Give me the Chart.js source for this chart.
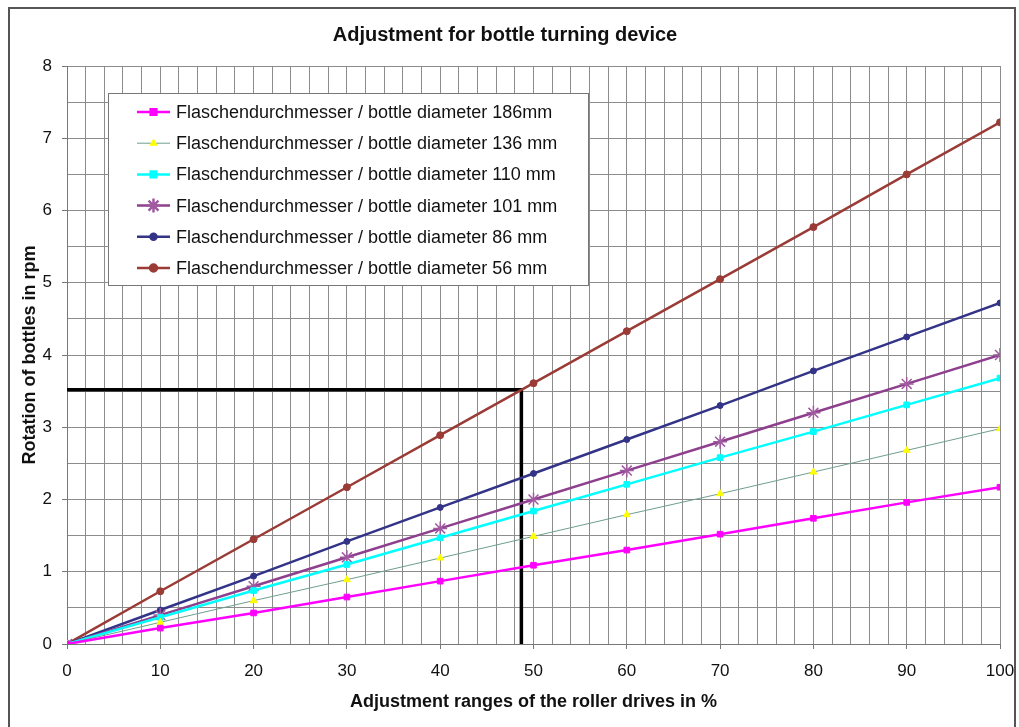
<!DOCTYPE html>
<html>
<head>
<meta charset="utf-8">
<title>Adjustment for bottle turning device</title>
<script src="https://cdn.jsdelivr.net/npm/chart.js@4.4.1/dist/chart.umd.min.js"></script>
<style>
  html, body { margin: 0; padding: 0; background: #fff; }
  #wrap { width: 1019px; height: 727px; position: relative; }
</style>
</head>
<body>
<div id="wrap"><canvas id="bottleChart" width="1019" height="727"></canvas></div>
<script>
// adjustment range in %
const adjustment = [0, 10, 20, 30, 40, 50, 60, 70, 80, 90, 100];

// rotation of bottles in rpm, per bottle diameter
const dia186 = [0, 0.22, 0.43, 0.65, 0.87, 1.09, 1.30, 1.52, 1.74, 1.96, 2.17];
const dia136 = [0, 0.30, 0.60, 0.89, 1.19, 1.49, 1.79, 2.08, 2.38, 2.68, 2.98];
const dia110 = [0, 0.37, 0.74, 1.10, 1.47, 1.84, 2.21, 2.58, 2.94, 3.31, 3.68];
const dia101 = [0, 0.40, 0.80, 1.20, 1.60, 2.00, 2.40, 2.80, 3.20, 3.60, 4.00];
const dia86  = [0, 0.47, 0.94, 1.42, 1.89, 2.36, 2.83, 3.30, 3.78, 4.25, 4.72];
const dia56  = [0, 0.73, 1.45, 2.17, 2.89, 3.61, 4.33, 5.05, 5.77, 6.50, 7.22];

// reading example drawn in black
const readX = [0, 48.7, 48.7];
const readY = [3.52, 3.52, 0];

const FONT = '"Liberation Sans", Arial, sans-serif';

function points(ys) {
    return adjustment.map((x, i) => ({ x: x, y: ys[i] }));
}

function series(label, data, line, fill, style, radius, width) {
    return {
        label: label,
        data: points(data),
        borderColor: line,
        backgroundColor: fill,
        pointBorderColor: fill,
        pointBackgroundColor: fill,
        pointStyle: style,
        pointRadius: radius,
        pointBorderWidth: style === 'star' ? 1.5 : 1,
        borderWidth: width,
        tension: 0,
        inLegend: true
    };
}

const datasets = [
    series('Flaschendurchmesser / bottle diameter 186mm', dia186, '#ff00ff', '#ff00ff', 'rect', 4, 2.5),
    series('Flaschendurchmesser / bottle diameter 136 mm', dia136, '#6f9f8c', '#ffff00', 'triangle', 4, 1),
    series('Flaschendurchmesser / bottle diameter 110 mm', dia110, '#00ffff', '#00ffff', 'rect', 4, 2.5),
    series('Flaschendurchmesser / bottle diameter 101 mm', dia101, '#8e3f8e', '#a05aa0', 'star', 7, 2.5),
    series('Flaschendurchmesser / bottle diameter 86 mm', dia86, '#333388', '#333388', 'circle', 3, 2.5),
    series('Flaschendurchmesser / bottle diameter 56 mm', dia56, '#9a3b36', '#9a3b36', 'circle', 3.5, 2.5),
    {
        label: 'reading',
        data: readX.map((x, i) => ({ x: x, y: readY[i] })),
        borderColor: '#000',
        borderWidth: 3.5,
        pointRadius: 0,
        tension: 0,
        inLegend: false
    }
];

// frame round the whole chart
const framePlugin = {
    id: 'frame',
    beforeDraw(chart) {
        const ctx = chart.ctx;
        ctx.save();
        ctx.fillStyle = '#fff';
        ctx.fillRect(0, 0, chart.width, chart.height);
        ctx.strokeStyle = '#555';
        ctx.lineWidth = 2;
        ctx.strokeRect(9, 8, 1006, 740);
        ctx.restore();
    }
};

// legend box inside the plot
const boxLegend = {
    id: 'boxLegend',
    afterDraw(chart) {
        const ctx = chart.ctx;
        const left = 108, top = 93, w = 480, h = 192;
        ctx.save();
        ctx.fillStyle = '#fff';
        ctx.fillRect(left, top, w, h);
        ctx.strokeStyle = '#777';
        ctx.lineWidth = 1;
        ctx.strokeRect(left + 0.5, top + 0.5, w, h);
        ctx.font = '18px ' + FONT;
        ctx.textBaseline = 'middle';
        let y = 112;
        chart.data.datasets.forEach(ds => {
            if (!ds.inLegend) return;
            ctx.strokeStyle = ds.borderColor;
            ctx.lineWidth = ds.borderWidth;
            ctx.beginPath();
            ctx.moveTo(137, y);
            ctx.lineTo(170, y);
            ctx.stroke();
            ctx.fillStyle = ds.pointBackgroundColor;
            ctx.strokeStyle = ds.pointBorderColor;
            Chart.helpers.drawPoint(ctx, {
                pointStyle: ds.pointStyle,
                radius: ds.pointRadius,
                rotation: 0,
                borderWidth: ds.pointBorderWidth
            }, 153.5, y);
            ctx.fillStyle = '#111';
            ctx.fillText(ds.label, 176, y + 1);
            y += 31.2;
        });
        ctx.restore();
    }
};

const ctx = document.getElementById('bottleChart').getContext('2d');
new Chart(ctx, {
    type: 'line',
    data: { datasets: datasets },
    plugins: [framePlugin, boxLegend],
    options: {
        responsive: false,
        animation: false,
        layout: { padding: { left: 10, right: 19, top: 0, bottom: 0 } },
        plugins: {
            legend: { display: false },
            tooltip: { enabled: false },
            title: {
                display: true,
                text: 'Adjustment for bottle turning device',
                color: '#111',
                font: { family: FONT, size: 20, weight: 'bold' },
                padding: { top: 23, bottom: 19 }
            }
        },
        scales: {
            x: {
                type: 'linear',
                min: 0,
                max: 100,
                afterFit(scale) {
                    scale.height = 83;
                    scale.paddingLeft = 0;
                    scale.paddingRight = 0;
                },
                border: { color: '#777', width: 1 },
                grid: {
                    color: '#8c8c8c',
                    lineWidth: 1,
                    tickLength: 5,
                    tickColor: c => (c.tick && c.tick.value % 10 === 0) ? '#777' : 'rgba(0,0,0,0)'
                },
                ticks: {
                    stepSize: 2,
                    autoSkip: false,
                    maxRotation: 0,
                    padding: 12,
                    color: '#111',
                    font: { family: FONT, size: 17 },
                    callback: v => (v % 10 === 0 ? v : '')
                },
                title: {
                    display: true,
                    text: 'Adjustment ranges of the roller drives in %',
                    color: '#111',
                    font: { family: FONT, size: 18, weight: 'bold' },
                    padding: { top: 0, bottom: 14 }
                }
            },
            y: {
                type: 'linear',
                min: 0,
                max: 8,
                afterFit(scale) { scale.width = 57; },
                border: { color: '#777', width: 1 },
                grid: {
                    color: '#8c8c8c',
                    lineWidth: 1,
                    tickLength: 5,
                    tickColor: c => (c.tick && Number.isInteger(c.tick.value)) ? '#777' : 'rgba(0,0,0,0)'
                },
                ticks: {
                    stepSize: 0.5,
                    autoSkip: false,
                    padding: 10,
                    color: '#111',
                    font: { family: FONT, size: 17 },
                    callback: v => (Number.isInteger(v) ? v : '')
                },
                title: {
                    display: true,
                    text: 'Rotation of bottles in rpm',
                    color: '#111',
                    font: { family: FONT, size: 18, weight: 'bold' },
                    padding: { top: 9, bottom: 0 }
                }
            }
        }
    }
});
</script>
</body>
</html>
